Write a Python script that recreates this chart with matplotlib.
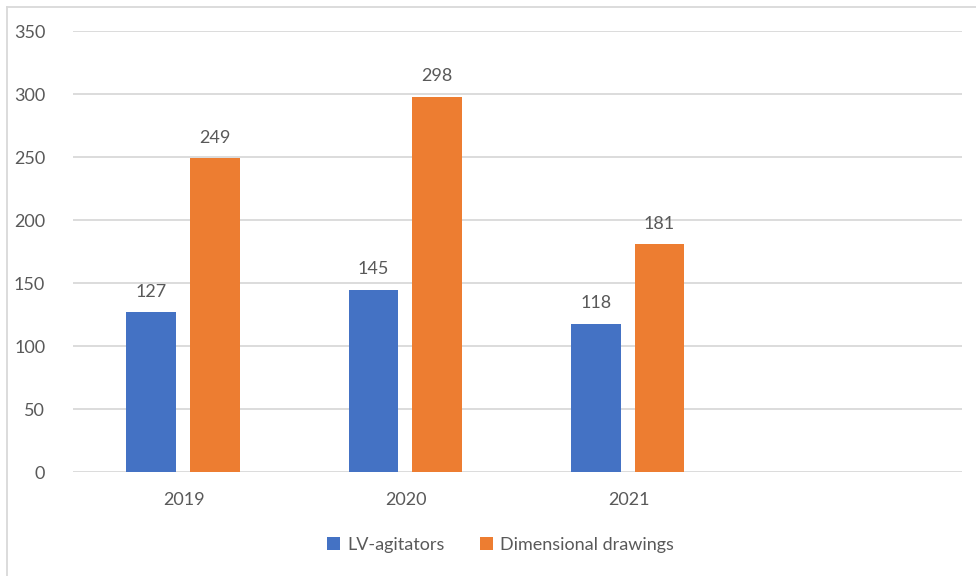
import matplotlib.pyplot as plt
import numpy as np
from matplotlib.lines import Line2D

# Chart data
years = ["2019", "2020", "2021", ""]
lv_agitators = [127, 145, 118, np.nan]
dimensional_drawings = [249, 298, 181, np.nan]

plt.rcParams['font.family'] = ['Lato', 'DejaVu Sans']
text_color = "#595959"
colors = ["#4472C4", "#ED7D31"]

fig = plt.figure(figsize=(9.76, 5.76), dpi=100)
ax = fig.add_axes([0.0748, 0.1797, 0.9109, 0.7663])

x = np.arange(len(years))
width = 0.223
offset = 0.143

bars1 = ax.bar(x - offset - 0.005, lv_agitators, width=width, color=colors[0], label="LV-agitators")
bars2 = ax.bar(x + offset - 0.005, dimensional_drawings, width=width, color=colors[1], label="Dimensional drawings")

# value labels
for bars, vals in [(bars1, lv_agitators), (bars2, dimensional_drawings)]:
    for b, v in zip(bars, vals):
        if np.isnan(v):
            continue
        ax.annotate(str(int(v)), (b.get_x() + b.get_width() / 2, v),
                    xytext=(0, 9), textcoords="offset points",
                    ha="center", va="bottom", fontsize=13, color=text_color)

ax.set_xlim(-0.5, 3.5)
ax.set_ylim(0, 350)
ax.set_yticks(range(0, 351, 50))
ax.set_xticks(x)
ax.set_xticklabels(years)
ax.tick_params(axis='both', length=0, labelsize=13, colors=text_color)
ax.tick_params(axis='y', pad=20)
ax.tick_params(axis='x', pad=14)

ax.grid(axis='y', color="#D9D9D9", linewidth=1.3)
ax.set_axisbelow(True)
for s in ax.spines.values():
    s.set_visible(False)

fig.legend(loc="center", bbox_to_anchor=(0.513, 0.054), ncol=2, frameon=False,
           fontsize=13, labelcolor=text_color, handlelength=0.7, handleheight=0.7,
           handletextpad=0.4, columnspacing=2.0)

# chart area border (left and top edges)
fig.add_artist(Line2D([7 / 976, 7 / 976], [0, 1 - 7 / 576], transform=fig.transFigure,
                      color="#D9D9D9", linewidth=1.3))
fig.add_artist(Line2D([7 / 976, 1], [1 - 7 / 576, 1 - 7 / 576], transform=fig.transFigure,
                      color="#D9D9D9", linewidth=1.3))

fig.savefig("out.png", dpi=100)
